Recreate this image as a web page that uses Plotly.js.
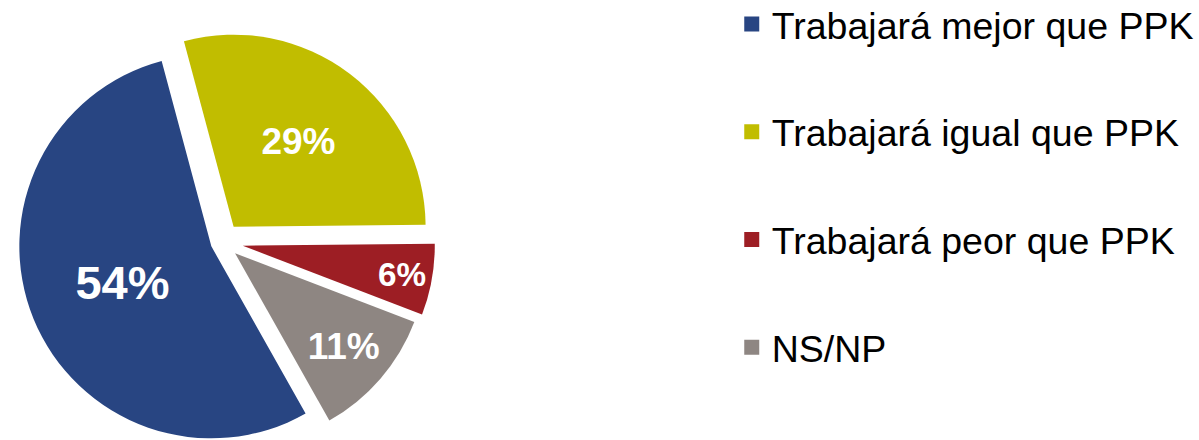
<!DOCTYPE html>
<html>
<head>
<meta charset="utf-8">
<script src="https://cdn.plot.ly/plotly-3.0.1.min.js"></script>
<style>
  html, body { margin: 0; padding: 0; background: #ffffff; overflow: hidden; }
  #chart { width: 1199px; height: 498px; margin-top: -7px; }
</style>
</head>
<body>
<div id="chart"></div>
<script>
// Categories and values (percent)
const categories = ["Trabajará mejor que PPK", "Trabajará igual que PPK", "Trabajará peor que PPK", "NS/NP"];
const values = [54, 29, 6, 11];
const labelsText = ["54%", "29%", "6%", "11%"];
const colors = ["#284582", "#c1bd00", "#9d1e24", "#8e8682"];

const pieTrace = {
  type: "pie",
  labels: categories,
  values: values,
  text: labelsText,
  textinfo: "text",
  textposition: "inside",
  insidetextorientation: "horizontal",
  sort: false,
  direction: "clockwise",
  rotation: 150.6,
  pull: [0.06, 0.10, 0.11, 0.09],
  marker: { colors: colors, line: { width: 0 } },
  textfont: { family: "Liberation Sans, Arial, sans-serif", size: [47, 37, 37, 37], color: "#ffffff", weight: "bold" },
  domain: { x: [0.00742, 0.3629], y: [0, 1] },
  showlegend: false,
  hoverinfo: "label+percent"
};

// Legend entries built from the same categories
const legendTraces = categories.map((name, i) => ({
  type: "scatter",
  mode: "markers",
  x: [null],
  y: [null],
  name: name,
  legendgroup: "g" + i,
  marker: { symbol: "square", size: 15, color: colors[i] },
  hoverinfo: "skip"
}));

const layout = {
  width: 1199,
  height: 498,
  margin: { l: 0, r: 0, t: 0, b: 0 },
  paper_bgcolor: "#ffffff",
  plot_bgcolor: "#ffffff",
  xaxis: { visible: false },
  yaxis: { visible: false },
  showlegend: true,
  legend: {
    x: 0.6103, xanchor: "left",
    y: 1, yanchor: "top",
    traceorder: "grouped",
    tracegroupgap: 56,
    font: { family: "Liberation Sans, Arial, sans-serif", size: 37.5, color: "#000000" },
    bgcolor: "rgba(0,0,0,0)",
    borderwidth: 0
  }
};

Plotly.newPlot("chart", [pieTrace].concat(legendTraces), layout, { displayModeBar: false, staticPlot: true });
</script>
</body>
</html>
